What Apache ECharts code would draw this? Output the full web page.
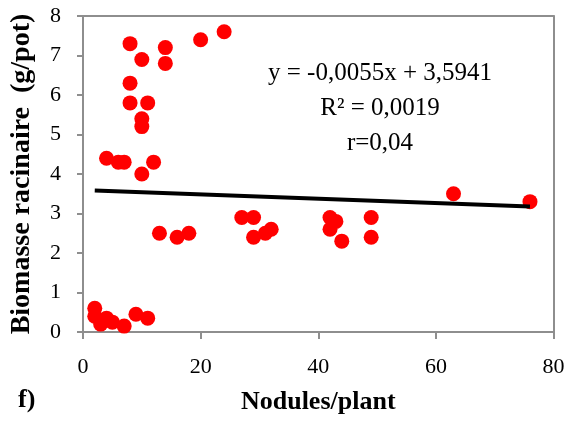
<!DOCTYPE html>
<html>
<head>
<meta charset="utf-8">
<script src="https://cdn.jsdelivr.net/npm/echarts@6/dist/echarts.min.js"></script>
<style>
  html, body { margin: 0; padding: 0; background: #ffffff; }
  #chart { width: 568px; height: 421px; }
</style>
</head>
<body>
<div id="chart"></div>
<script>
// Nodules per plant (x) and root biomass in g/pot (y), one entry per plant
const nodules = [
  8, 14, 20, 24, 10, 14, 8, 8, 11, 10, 10, 4, 6, 7, 12, 10,
  2, 2, 3, 4, 5, 7, 9, 11,
  13, 16, 18, 27, 29, 29, 31, 32, 42, 43, 42, 44, 49, 49, 63, 76
];
const biomass = [
  7.3, 7.2, 7.4, 7.6, 6.9, 6.8, 6.3, 5.8, 5.8, 5.4, 5.2, 4.4, 4.3, 4.3, 4.3, 4.0,
  0.6, 0.4, 0.2, 0.35, 0.25, 0.15, 0.45, 0.35,
  2.5, 2.4, 2.5, 2.9, 2.9, 2.4, 2.5, 2.6, 2.9, 2.8, 2.6, 2.3, 2.9, 2.4, 3.5, 3.3
];

// Linear fit reported on the chart
const slope = -0.0055;
const intercept = 3.5941;
const fitLines = ['y = -0,0055x + 3,5941', 'R² = 0,0019', 'r=0,04'];

// Axis ranges and steps
const xTicks = { min: 0, max: 80, interval: 20 };
const yTicks = { min: 0, max: 8, interval: 1 };

const points = nodules.map((x, i) => [x, biomass[i]]);
const xFitStart = Math.min(...nodules);
const xFitEnd = Math.max(...nodules);
const fit = [
  [xFitStart, intercept + slope * xFitStart],
  [xFitEnd, intercept + slope * xFitEnd]
];

const serif = '"Liberation Serif", "Times New Roman", serif';
const gray = '#8e8e8e';
const frameLine = { show: true, onZero: false, lineStyle: { color: gray, width: 2 } };

const chart = echarts.init(document.getElementById('chart'), null, { renderer: 'canvas' });
chart.setOption({
  animation: false,
  backgroundColor: '#ffffff',
  grid: { left: 80.5, right: 14.5, top: 16, bottom: 89 },
  xAxis: [
    {
      type: 'value',
      min: xTicks.min, max: xTicks.max, interval: xTicks.interval,
      name: 'Nodules/plant',
      nameLocation: 'middle',
      nameGap: 57,
      nameTextStyle: { fontFamily: serif, fontWeight: 'bold', fontSize: 26, color: '#000' },
      axisLine: frameLine,
      axisTick: { show: true, length: 7, lineStyle: { color: gray, width: 2 } },
      axisLabel: { fontFamily: serif, fontSize: 22, color: '#000', margin: 24 },
      splitLine: { show: false }
    },
    {
      // top edge of the plot frame
      type: 'value', position: 'top',
      min: xTicks.min, max: xTicks.max, interval: xTicks.interval,
      axisLine: frameLine, axisTick: { show: false }, axisLabel: { show: false },
      splitLine: { show: false }
    }
  ],
  yAxis: [
    {
      type: 'value',
      min: yTicks.min, max: yTicks.max, interval: yTicks.interval,
      name: 'Biomasse racinaire  (g/pot)',
      nameLocation: 'middle',
      nameGap: 47,
      nameTextStyle: { fontFamily: serif, fontWeight: 'bold', fontSize: 28, color: '#000' },
      axisLine: frameLine,
      axisTick: { show: true, length: 6, lineStyle: { color: gray, width: 2 } },
      axisLabel: { fontFamily: serif, fontSize: 22, color: '#000', margin: 22 },
      splitLine: { show: false }
    },
    {
      // right edge of the plot frame
      type: 'value', position: 'right',
      min: yTicks.min, max: yTicks.max, interval: yTicks.interval,
      axisLine: frameLine, axisTick: { show: false }, axisLabel: { show: false },
      splitLine: { show: false }
    }
  ],
  series: [
    {
      type: 'scatter',
      data: points,
      symbol: 'circle',
      symbolSize: 15,
      itemStyle: { color: '#ff0000', opacity: 1 },
      z: 2
    },
    {
      type: 'line',
      data: fit,
      symbol: 'none',
      lineStyle: { color: '#000000', width: 4 },
      z: 3
    }
  ],
  graphic: fitLines.map((line, i) => ({
    type: 'text',
    x: 380,
    y: 73 + i * 35,
    style: {
      text: line,
      fontFamily: serif,
      fontSize: 25,
      fill: '#000',
      align: 'center',
      verticalAlign: 'middle'
    }
  })).concat([
    {
      type: 'text',
      x: 18, y: 400,
      style: {
        text: 'f)', fontFamily: serif, fontWeight: 'bold', fontSize: 26,
        fill: '#000', verticalAlign: 'middle'
      }
    }
  ])
});
</script>
</body>
</html>
